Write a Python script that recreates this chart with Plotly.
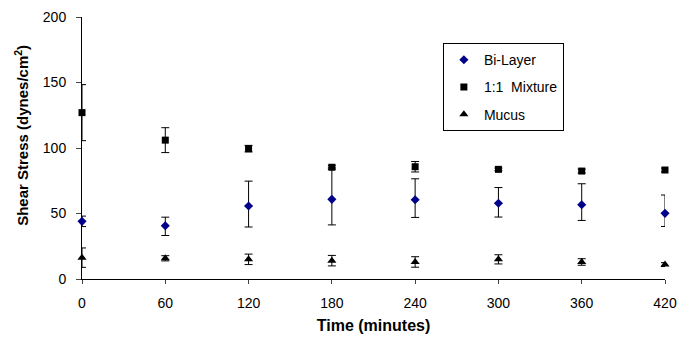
import plotly.graph_objects as go

time_min = [0, 60, 120, 180, 240, 300, 360, 420]

bilayer = [44, 40.7, 55.7, 60.8, 60.5, 57.8, 56.7, 50.1]
bilayer_err_up = [4, 6.5, 19, 24, 16, 12, 16, 14]
bilayer_err_down = [4, 7.5, 16, 19.5, 13.5, 10.5, 12, 10]

mixture = [127, 106, 99.5, 85.3, 85.7, 83.7, 82.4, 83.2]
mixture_err = [21.4, 9.5, 2.5, 1.5, 4, 1, 1.5, 1.5]

mucus = [16.3, 15.8, 15, 14, 13, 15, 13, 11]
mucus_err = [7.4, 2, 4, 4, 4, 3.5, 2.5, 1.5]

x_ticks = [0, 60, 120, 180, 240, 300, 360, 420]
y_ticks = [0, 50, 100, 150, 200]

x_title = "<b>Time (minutes)</b>"
y_title = "<b>Shear Stress (dynes/cm<sup>2</sup>)</b>"

err_style = dict(type="data", color="black", thickness=1, width=4, visible=True)

fig = go.Figure()
fig.add_trace(go.Scatter(
    x=time_min, y=bilayer, mode="markers", name="Bi-Layer", legendgroup="a",
    marker=dict(symbol="diamond", size=7, color="#00008B"),
    error_y=dict(array=bilayer_err_up, arrayminus=bilayer_err_down, symmetric=False, **err_style),
    cliponaxis=False))
fig.add_trace(go.Scatter(
    x=time_min, y=mixture, mode="markers", name="1:1  Mixture", legendgroup="b",
    marker=dict(symbol="square", size=7, color="black"),
    error_y=dict(array=mixture_err, **err_style), cliponaxis=False))
fig.add_trace(go.Scatter(
    x=time_min, y=mucus, mode="markers", name="Mucus", legendgroup="c",
    marker=dict(symbol="triangle-up", size=8, color="black"),
    error_y=dict(array=mucus_err, **err_style), cliponaxis=False))

font_family = "Liberation Sans, Arial, sans-serif"

fig.update_layout(
    width=678, height=339,
    margin=dict(l=82, r=13, t=17, b=60, autoexpand=False),
    paper_bgcolor="white", plot_bgcolor="white",
    font=dict(family=font_family, size=14, color="black"),
    showlegend=True,
    legend=dict(
        x=0.619, y=0.90, xanchor="left", yanchor="top",
        bordercolor="black", borderwidth=1, bgcolor="white",
        font=dict(size=14), tracegroupgap=6, itemwidth=30,
    ),
    xaxis=dict(
        range=[0, 420], tickvals=x_ticks, ticks="outside", ticklen=4,
        ticklabelstandoff=7, tickfont=dict(size=14),
        showline=True, linecolor="black", linewidth=1, showgrid=False,
        zeroline=False, automargin=False,
        title=dict(text=x_title, font=dict(size=16), standoff=10),
    ),
    yaxis=dict(
        range=[0, 200], tickvals=y_ticks, ticks="outside", ticklen=5,
        ticklabelstandoff=7, tickfont=dict(size=14),
        showline=True, linecolor="black", linewidth=1, showgrid=False,
        zeroline=False, automargin=False,
    ),
    annotations=[dict(
        text=y_title, textangle=-90, xref="paper", yref="paper",
        x=-0.103, y=0.55, xanchor="center", yanchor="middle",
        showarrow=False, font=dict(size=15),
    )],
)

fig.write_html("out.html")
